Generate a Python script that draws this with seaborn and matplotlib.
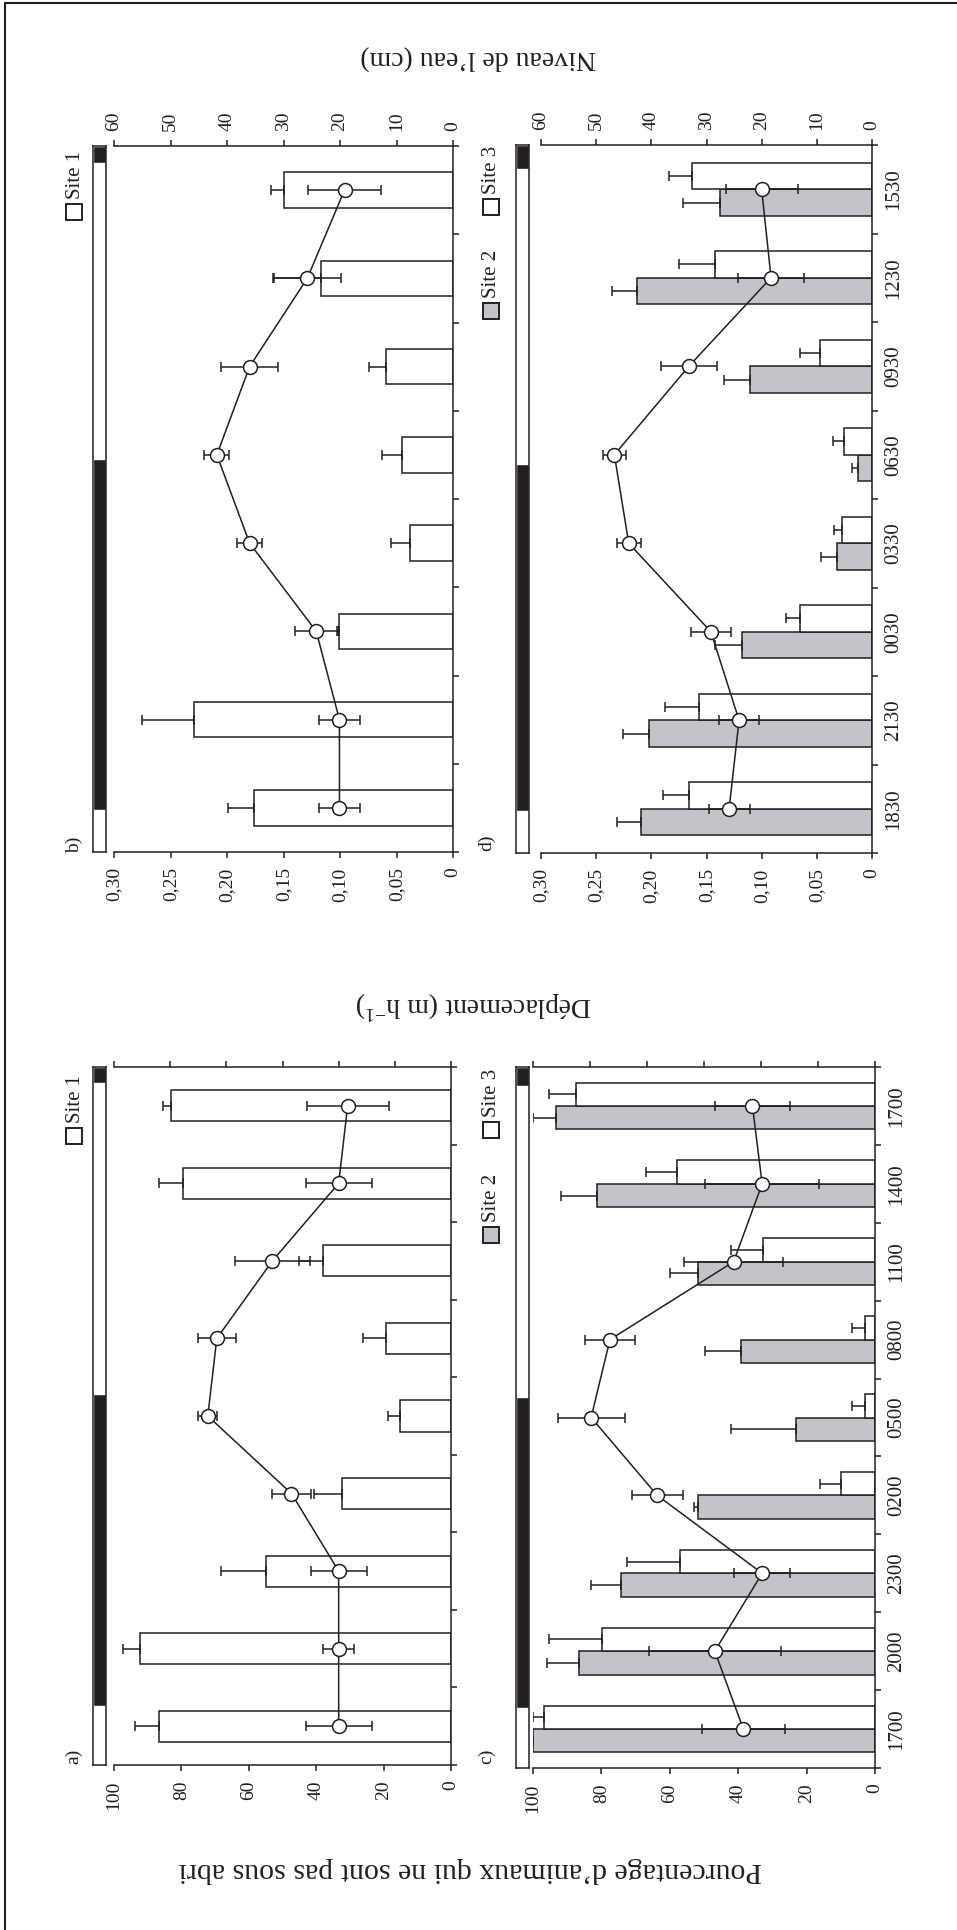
import numpy as np
import pandas as pd
import matplotlib
matplotlib.use("Agg")
import matplotlib.pyplot as plt
from matplotlib.patches import Rectangle
from matplotlib.lines import Line2D
import seaborn as sns

# ── Data ──────────────────────────────────────────────────────────────────────
TIMES_AC = ["1700", "2000", "2300", "0200", "0500", "0800", "1100", "1400", "1700"]
TIMES_BD = ["1830", "2130", "0030", "0330", "0630", "0930", "1230", "1530"]

# a) % of animals not sheltered (site 1) + water level (cm)
PCT_S1      = [86.6, 92.2, 55.0, 32.4, 15.1, 19.2, 37.9, 79.6, 83.0]
PCT_S1_ERR  = [7.3, 5.0, 13.3, 8.4, 3.6, 7.0, 7.2, 7.1, 2.6]
WATER_A     = [20.0, 20.0, 20.0, 28.4, 43.3, 41.7, 31.8, 20.0, 18.4]
WATER_A_ERR = [5.9, 2.8, 5.0, 3.4, 1.7, 3.4, 6.7, 5.9, 7.3]

# b) displacement (m/h), site 1 + water level (cm)
MOVE_S1     = [0.176, 0.229, 0.101, 0.038, 0.045, 0.059, 0.117, 0.150]
MOVE_S1_ERR = [0.023, 0.046, 0.002, 0.017, 0.018, 0.015, 0.042, 0.011]
WATER_B     = [20.1, 20.1, 24.2, 36.0, 41.8, 36.0, 25.8, 19.2]
WATER_B_ERR = [3.7, 3.7, 3.8, 2.2, 2.2, 5.1, 5.9, 6.4]

# c) % of animals not sheltered, sites 2 and 3 + water level (cm)
PCT_S2      = [100.0, 86.6, 74.4, 51.7, 23.2, 39.3, 51.9, 81.2, 93.2]
PCT_S2_ERR  = [0.3, 9.3, 8.5, 1.3, 18.9, 10.5, 7.9, 10.5, 6.8]
PCT_S3      = [96.9, 79.7, 57.1, 10.0, 2.9, 2.9, 32.7, 58.0, 87.5]
PCT_S3_ERR  = [3.1, 15.6, 15.3, 6.1, 3.9, 3.9, 9.3, 9.1, 7.8]
WATER_C     = [23.1, 28.1, 19.8, 38.2, 49.8, 46.5, 24.8, 19.8, 21.5]
WATER_C_ERR = [7.3, 11.6, 4.9, 4.5, 5.9, 4.4, 8.7, 10.0, 6.6]

# d) displacement (m/h), sites 2 and 3 + water level (cm)
MOVE_S2     = [0.209, 0.202, 0.118, 0.032, 0.013, 0.111, 0.213, 0.138]
MOVE_S2_ERR = [0.022, 0.024, 0.024, 0.014, 0.005, 0.023, 0.023, 0.033]
MOVE_S3     = [0.166, 0.157, 0.065, 0.027, 0.025, 0.047, 0.142, 0.163]
MOVE_S3_ERR = [0.023, 0.031, 0.013, 0.007, 0.010, 0.018, 0.033, 0.021]
WATER_D     = [25.9, 24.1, 29.2, 44.1, 46.7, 33.2, 18.3, 20.0]
WATER_D_ERR = [3.7, 3.7, 3.6, 2.2, 2.1, 5.1, 6.0, 6.5]

# night periods, in category units along the time axis
NIGHT_A = [(0.26, 4.28), (8.29, 8.50)]
NIGHT_B = [(-0.02, 3.95), (7.31, 7.50)]
NIGHT_C = [(0.27, 4.26), (8.26, 8.50)]
NIGHT_D = [(-0.03, 3.89), (7.23, 7.50)]

PCT_TICKS   = [0, 20, 40, 60, 80, 100]
PCT_LABELS  = ["0", "20", "40", "60", "80", "100"]
MOVE_TICKS  = [0, 0.05, 0.10, 0.15, 0.20, 0.25, 0.30]
MOVE_LABELS = ["0", "0,05", "0,10", "0,15", "0,20", "0,25", "0,30"]
WATER_TICKS = [0, 10, 20, 30, 40, 50, 60]

# ── Style ─────────────────────────────────────────────────────────────────────
W, H = 957, 1930
INK = "#231f20"
SITE_COLORS = {"Site 1": "white", "Site 2": "#c2c4ca", "Site 3": "white"}
LW = 1.1

sns.set_theme(style="ticks")
plt.rcParams["font.family"] = ["Liberation Serif", "DejaVu Serif"]
plt.rcParams["mathtext.default"] = "regular"
plt.rcParams["axes.edgecolor"] = INK
plt.rcParams["axes.linewidth"] = LW
plt.rcParams["xtick.color"] = INK
plt.rcParams["ytick.color"] = INK

fig = plt.figure(figsize=(W / 100, H / 100), dpi=100)


def fx(px):
    return px / W


def fy(py):
    return 1 - py / H


def draw_panel(box, strip_x, times, bars, water, water_err, vmax, vticks, vlabels,
               night, time_labels, water_labels, width):
    x0, x1, y0, y1 = box
    ax = fig.add_axes([fx(x0), fy(y1), (x1 - x0) / W, (y1 - y0) / H])
    n = len(times)
    slots = [str(i) for i in range(n)]

    df = pd.concat(
        [pd.DataFrame({"slot": slots, "val": vals, "site": site})
         for site, (vals, _) in bars.items()],
        ignore_index=True,
    )
    sns.barplot(data=df, x="val", y="slot", hue="site", order=slots,
                hue_order=list(bars), palette=SITE_COLORS, orient="h",
                width=width, saturation=1, edgecolor=INK, linewidth=LW,
                errorbar=None, legend=False, ax=ax)

    # one-sided error bars on the bars
    for cont, (vals, errs) in zip(list(ax.containers), bars.values()):
        for bar, e in zip(cont, errs):
            yc = bar.get_y() + bar.get_height() / 2
            ax.errorbar(bar.get_width(), yc, xerr=[[0], [e]], fmt="none",
                        ecolor=INK, elinewidth=LW, capsize=3.5, capthick=LW, zorder=3)

    ax.set_xlim(vmax, 0)
    ax.set_xticks(vticks)
    ax.set_xticklabels(vlabels, rotation=90, fontsize=14)
    ax.tick_params(axis="x", direction="out", length=4, width=LW, pad=7)
    ax.set_xlabel("")
    ax.set_ylabel("")

    ax.yaxis.tick_right()
    ax.set_yticks(range(n))
    ax.set_yticklabels(times if time_labels else [""] * n, rotation=90,
                       va="center", fontsize=15)
    ax.set_yticks(np.arange(n + 1) - 0.5, minor=True)
    ax.tick_params(axis="y", which="major", length=0, pad=9, left=False, right=True)
    ax.tick_params(axis="y", which="minor", length=4, width=LW, left=False, right=True)
    for side in ["left", "top"]:
        ax.spines[side].set_visible(False)

    # water level on the 0-60 cm scale
    axw = ax.twiny()
    pos = np.arange(n)
    axw.errorbar(water, pos, xerr=water_err, fmt="none", ecolor=INK,
                 elinewidth=LW, capsize=3.5, capthick=LW, zorder=3)
    sns.lineplot(x=water, y=pos, ax=axw, orient="y", sort=False, estimator=None,
                 color=INK, linewidth=LW, marker="o", markersize=10,
                 markerfacecolor="white", markeredgecolor=INK,
                 markeredgewidth=LW, zorder=4)
    axw.set_xlim(60, 0)
    axw.set_xticks(WATER_TICKS)
    axw.set_xticklabels([str(v) for v in WATER_TICKS] if water_labels else [""] * 7,
                        rotation=90, fontsize=14)
    axw.tick_params(axis="x", direction="out", length=4, width=LW, pad=7)
    axw.set_xlabel("")
    for side in ["left", "right", "bottom"]:
        axw.spines[side].set_visible(False)
    ax.set_ylim(-0.5, n - 0.5)

    # day / night strip
    axs = fig.add_axes([fx(strip_x), fy(y1), 13 / W, (y1 - y0) / H])
    for s, e in night:
        axs.barh((s + e) / 2, 1, height=e - s, left=0, color=INK)
    axs.set_xlim(0, 1)
    axs.set_ylim(-0.5, n - 0.5)
    axs.set_xticks([])
    axs.set_yticks([])
    for sp in axs.spines.values():
        sp.set_linewidth(LW)
        sp.set_color(INK)
    return ax


draw_panel((114, 451, 1067, 1765), 93, TIMES_AC, {"Site 1": (PCT_S1, PCT_S1_ERR)},
           WATER_A, WATER_A_ERR, 100, PCT_TICKS, PCT_LABELS, NIGHT_A,
           False, False, 0.4)
draw_panel((114, 453, 146, 852), 93, TIMES_BD, {"Site 1": (MOVE_S1, MOVE_S1_ERR)},
           WATER_B, WATER_B_ERR, 0.30, MOVE_TICKS, MOVE_LABELS, NIGHT_B,
           False, True, 0.4)
draw_panel((533, 875, 1067, 1768), 516, TIMES_AC,
           {"Site 2": (PCT_S2, PCT_S2_ERR), "Site 3": (PCT_S3, PCT_S3_ERR)},
           WATER_C, WATER_C_ERR, 100, PCT_TICKS, PCT_LABELS, NIGHT_C,
           True, False, 0.6)
draw_panel((541, 872, 145, 853), 516, TIMES_BD,
           {"Site 2": (MOVE_S2, MOVE_S2_ERR), "Site 3": (MOVE_S3, MOVE_S3_ERR)},
           WATER_D, WATER_D_ERR, 0.30, MOVE_TICKS, MOVE_LABELS, NIGHT_D,
           True, True, 0.6)


# ── Legends (rotated, drawn by hand) ─────────────────────────────────────────
def legend_item(x_px, sq_top, label, color):
    size = 16
    fig.patches.append(Rectangle((fx(x_px - size / 2), fy(sq_top + size)), size / W,
                                 size / H, transform=fig.transFigure, facecolor=color,
                                 edgecolor=INK, linewidth=1.4))
    fig.text(fx(x_px + 1), fy(sq_top - 5), label, rotation=90, ha="center",
             va="bottom", fontsize=15, color=INK)


legend_item(74, 1128, "Site 1", "white")
legend_item(74, 204, "Site 1", "white")
legend_item(491, 1227, "Site 2", SITE_COLORS["Site 2"])
legend_item(491, 1122, "Site 3", "white")
legend_item(491, 303, "Site 2", SITE_COLORS["Site 2"])
legend_item(491, 199, "Site 3", "white")

for lab, x, y in [("a)", 74, 1756), ("b)", 74, 845), ("c)", 487, 1756), ("d)", 487, 843)]:
    fig.text(fx(x), fy(y), lab, rotation=90, ha="center", va="center",
             fontsize=14, color=INK)

# ── Axis titles (upside down) ────────────────────────────────────────────────
fig.text(fx(470), fy(1870), "Pourcentage d’animaux qui ne sont pas sous abri",
         rotation=180, ha="center", va="center", fontsize=21.5, color=INK)
fig.text(fx(474), fy(1005), "Déplacement (m h$^{-1}$)",
         rotation=180, ha="center", va="center", fontsize=20, color=INK)
fig.text(fx(478), fy(57), "Niveau de l’eau (cm)",
         rotation=180, ha="center", va="center", fontsize=20, color=INK)

# outer frame (left and top edges)
fig.add_artist(Line2D([fx(5), fx(5)], [0, fy(3)], color=INK, linewidth=1.5))
fig.add_artist(Line2D([fx(5), 1], [fy(3), fy(3)], color=INK, linewidth=1.5))

fig.savefig("out.png", dpi=100)
plt.close(fig)
